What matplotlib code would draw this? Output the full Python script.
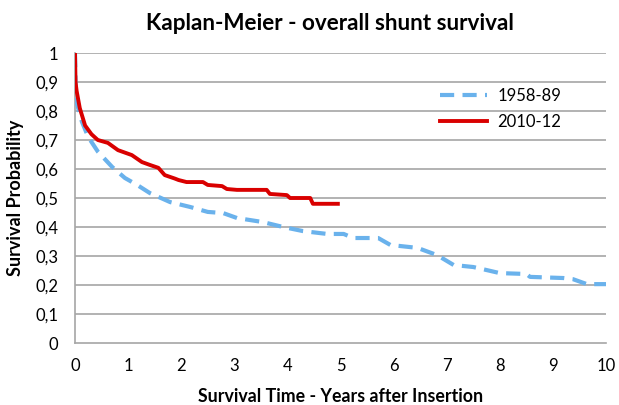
import matplotlib
matplotlib.use("Agg")
import matplotlib.pyplot as plt

plt.rcParams['font.family'] = ['Lato', 'DejaVu Sans']

title = "Kaplan-Meier - overall shunt survival"
xlabel = "Survival Time - Years after Insertion"
ylabel = "Survival Probability"

old_label = "1958-89"
old_t = [0, 0.01, 0.03, 0.13, 0.25, 0.43, 0.70, 0.94, 1.17, 1.41, 1.79, 2.17, 2.5, 2.79,
         3.05, 3.54, 3.92, 4.29, 4.75, 5.06, 5.24, 5.71, 5.94, 6.45, 6.82, 7.13, 7.5, 7.67,
         8.0, 8.5, 8.57, 9.2, 9.38, 9.64, 10.0]
old_s = [1.0, 0.9, 0.83, 0.763, 0.71, 0.66, 0.607, 0.569, 0.545, 0.517, 0.486, 0.469, 0.452,
         0.448, 0.431, 0.417, 0.40, 0.386, 0.376, 0.376, 0.362, 0.362, 0.338, 0.328, 0.303,
         0.269, 0.262, 0.255, 0.241, 0.238, 0.228, 0.224, 0.22, 0.203, 0.203]

new_label = "2010-12"
new_t = [0, 0.01, 0.03, 0.09, 0.19, 0.31, 0.43, 0.62, 0.81, 1.07, 1.26, 1.41, 1.57, 1.69,
         1.88, 1.95, 2.1, 2.41, 2.5, 2.77, 2.86, 3.05, 3.61, 3.67, 3.99, 4.05, 4.43, 4.48, 4.95]
new_s = [1.0, 0.9, 0.87, 0.81, 0.75, 0.72, 0.70, 0.69, 0.665, 0.648, 0.624, 0.614, 0.604,
         0.579, 0.567, 0.562, 0.555, 0.555, 0.545, 0.541, 0.531, 0.528, 0.528, 0.514, 0.51,
         0.50, 0.50, 0.48, 0.48]

x_ticks = list(range(0, 11))
y_ticks = [i / 10 for i in range(0, 11)]
y_ticklabels = ["0", "0,1", "0,2", "0,3", "0,4", "0,5", "0,6", "0,7", "0,8", "0,9", "1"]

fig = plt.figure(figsize=(6.19, 4.05), dpi=100)
ax = fig.add_axes([75/619, 1 - 343/405, (606-75)/619, (343-53)/405])

grid_c = '#a6a6a6'
for y in y_ticks[1:]:
    ax.axhline(y, color=grid_c, lw=1.2, zorder=1)

ax.plot(old_t, old_s, color='#6ab2ec', lw=3.0, linestyle=(0, (3.4, 2.0)),
        label=old_label, zorder=3, solid_capstyle='butt', dash_capstyle='butt')
ax.plot(new_t, new_s, color='#d90000', lw=2.8, label=new_label, zorder=4)

ax.set_xlim(0, 10)
ax.set_ylim(0, 1)
ax.set_xticks(x_ticks)
ax.set_xticklabels([str(v) for v in x_ticks])
ax.set_yticks(y_ticks)
ax.set_yticklabels(y_ticklabels)
ax.tick_params(axis='both', length=0, labelsize=12, colors='#000000')
ax.tick_params(axis='x', pad=11)
ax.tick_params(axis='y', pad=12)

for side in ['top', 'right']:
    ax.spines[side].set_visible(False)
ax.spines['left'].set_color(grid_c)
ax.spines['bottom'].set_color(grid_c)
ax.spines['left'].set_linewidth(1.2)
ax.spines['bottom'].set_linewidth(1.2)

ax.set_xlabel(xlabel, fontsize=12.8, fontweight='bold', labelpad=10)
ax.set_ylabel(ylabel, fontsize=13, fontweight='bold', labelpad=8)
fig.suptitle(title, x=330/619, y=1 - 24/405, va='center', fontsize=16.2, fontweight='bold')

leg = ax.legend(loc='upper left', bbox_to_anchor=(0.66, 0.93), frameon=False,
                fontsize=12, handlelength=2.8, handletextpad=0.6, labelspacing=0.6)

fig.savefig("out.png", dpi=100)
